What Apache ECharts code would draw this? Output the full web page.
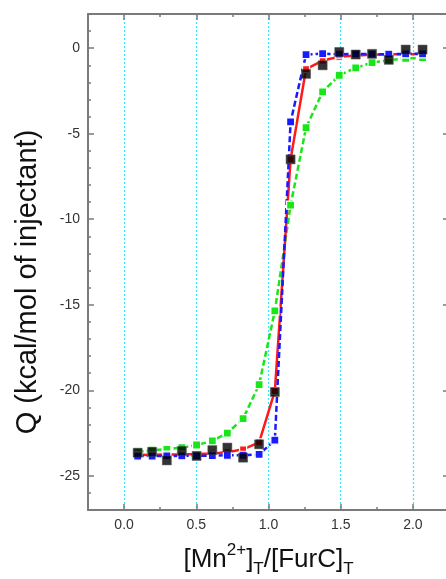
<!DOCTYPE html>
<html>
<head>
<meta charset="utf-8">
<script src="https://cdn.jsdelivr.net/npm/echarts@6/dist/echarts.min.js"></script>
<style>
html,body{margin:0;padding:0;background:#fff;}
#c{width:446px;height:579px;}
</style>
</head>
<body>
<div id="c"></div>
<script>
// ---- data ----
const ratio = [0.094, 0.194, 0.296, 0.400, 0.502, 0.611, 0.715, 0.824, 0.935, 1.044,
               1.153, 1.260, 1.375, 1.490, 1.604, 1.717, 1.833, 1.950, 2.067];
const greenQ = [-23.62, -23.50, -23.45, -23.35, -23.20, -22.96, -22.50, -21.66, -19.67, -15.36,
                -9.18, -4.64, -2.55, -1.58, -1.15, -0.84, -0.70, -0.60, -0.55];
const redQ   = [-23.78, -23.77, -23.76, -23.75, -23.73, -23.70, -23.62, -23.45, -23.05, -20.05,
                -6.50, -1.22, -0.72, -0.50, -0.42, -0.38, -0.36, -0.35, -0.34];
const blueQ  = [-23.85, -23.85, -23.84, -23.83, -23.83, -23.82, -23.80, -23.80, -23.75, -22.92,
                -4.31, -0.37, -0.32, -0.35, -0.33, -0.35, -0.35, -0.33, -0.33];
const blackQ = [-23.65, -23.60, -24.10, -23.55, -23.84, -23.50, -23.35, -23.94, -23.16, -20.10,
                -6.50, -1.50, -1.00, -0.22, -0.37, -0.33, -0.68, -0.08, -0.08];
const xMajorTicks = [0, 0.5, 1.0, 1.5, 2.0];
const yMajorTicks = [-25, -20, -15, -10, -5, 0];

const pair = (ys) => ratio.map((x, i) => [x, ys[i]]);

const FONT = 'Liberation Sans, Arial, sans-serif';
const axisGray = '#7a7a7a';
const labelStyle = { color: '#333', fontSize: 14, fontFamily: FONT };

function xAx(pos, major, withLabels) {
  return {
    type: 'value', position: pos, min: -0.25, max: 2.25,
    interval: 0.25,
    axisLine: { show: !major, onZero: false, lineStyle: { color: axisGray, width: 2 } },
    axisTick: major
      ? { show: true, inside: true, length: 6, customValues: xMajorTicks, lineStyle: { color: axisGray, width: 1.5 } }
      : { show: true, inside: true, length: 3, lineStyle: { color: axisGray, width: 1.5 } },
    axisLabel: withLabels
      ? Object.assign({ show: true, margin: 8, customValues: xMajorTicks, formatter: v => v.toFixed(1) }, labelStyle)
      : { show: false },
    splitLine: (major && pos === 'bottom')
      ? { show: true, lineStyle: { color: '#33e6ff', type: [2, 2], width: 1.2 } }
      : { show: false }
  };
}
function yAx(pos, major, withLabels) {
  return {
    type: 'value', position: pos, min: -27, max: 2,
    interval: 1,
    axisLine: { show: !major, onZero: false, lineStyle: { color: axisGray, width: 2 } },
    axisTick: major
      ? { show: true, inside: true, length: 6, customValues: yMajorTicks, lineStyle: { color: axisGray, width: 1.5 } }
      : { show: true, inside: true, length: 3, lineStyle: { color: axisGray, width: 1.5 } },
    axisLabel: withLabels
      ? Object.assign({ show: true, margin: 8, customValues: yMajorTicks, formatter: v => String(v) }, labelStyle)
      : { show: false },
    splitLine: { show: false }
  };
}

const xAxes = [xAx('bottom', false, false), xAx('bottom', true, true), xAx('top', false, false), xAx('top', true, false)];
const yAxes = [yAx('left', false, false), yAx('left', true, true), yAx('right', false, false), yAx('right', true, false)];

xAxes[1].name = '[Mn{sup|2+}]{sub|T}/[FurC]{sub|T}';
xAxes[1].nameLocation = 'middle';
xAxes[1].nameGap = 32;
xAxes[1].nameTextStyle = {
  color: '#111', fontSize: 26, fontFamily: FONT, lineHeight: 36,
  rich: {
    sup: { fontSize: 17, verticalAlign: 'top', lineHeight: 36, color: '#111', fontFamily: FONT, padding: [0, 0, 16, 0] },
    sub: { fontSize: 17, verticalAlign: 'bottom', lineHeight: 36, color: '#111', fontFamily: FONT, padding: [18, 0, 0, 0] }
  }
};
yAxes[1].name = 'Q (kcal/mol of injectant)';
yAxes[1].nameLocation = 'middle';
yAxes[1].nameGap = 46;
yAxes[1].nameTextStyle = { color: '#111', fontSize: 29, fontFamily: FONT, padding: [0, 40, 0, 0] };

function lineSeries(name, data, color, dashed, size) {
  return {
    name, type: 'line', data, xAxisIndex: 0, yAxisIndex: 0,
    symbol: 'rect', symbolSize: size, showAllSymbol: true,
    lineStyle: { color, width: 2.5, type: dashed ? [6, 3] : 'solid' },
    itemStyle: { color, borderColor: '#fff', borderWidth: 1.2 },
    emphasis: { disabled: true }, animation: false, z: 3
  };
}

const option = {
  backgroundColor: '#fff',
  animation: false,
  grid: { left: 88, top: 14, right: -3, bottom: 69, containLabel: false, outerBoundsMode: 'none' },
  xAxis: xAxes,
  yAxis: yAxes,
  series: [
    lineSeries('green', pair(greenQ), '#19e619', true, 8),
    lineSeries('red', pair(redQ), '#ff1a1a', false, 7),
    lineSeries('blue', pair(blueQ), '#1a1aff', true, 8),
    {
      name: 'data', type: 'scatter', data: pair(blackQ), xAxisIndex: 0, yAxisIndex: 0,
      symbol: 'rect', symbolSize: 9,
      itemStyle: { color: '#000', borderColor: '#444', borderWidth: 0.6 },
      emphasis: { disabled: true }, z: 4
    }
  ]
};

const chart = echarts.init(document.getElementById('c'), null, { renderer: 'canvas' });
chart.setOption(option);
</script>
</body>
</html>
